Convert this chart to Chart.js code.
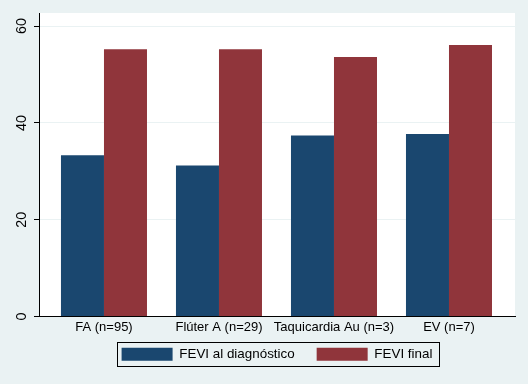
<!DOCTYPE html>
<html>
<head>
<meta charset="utf-8">
<script src="https://cdn.jsdelivr.net/npm/chart.js@4/dist/chart.umd.min.js"></script>
<style>
  body { margin: 0; background: #eaf2f3; }
  #wrap { width: 528px; height: 384px; }
</style>
</head>
<body>
<div id="wrap"><canvas id="myChart" width="528" height="384"></canvas></div>
<script>
const categories = ['FA (n=95)', 'Flúter A (n=29)', 'Taquicardia Au (n=3)', 'EV (n=7)']
const feviDiagnostico = [33.3, 31.2, 37.4, 37.7]
const feviFinal = [55.2, 55.2, 53.6, 56.1]
const yTicks = [0, 20, 40, 60]

const toPoints = (values) => values.map((v, i) => ({ x: i, y: v }))
const family = 'Liberation Sans, Arial'

// white plot region on the stata-like background + legend frame
const stataLook = {
    id: 'stataLook',
    afterLayout(chart) {
        // legend padding doubles as item gap, pull it up a bit closer to the axis
        const legend = chart.legend
        legend.top -= 13
        legend.bottom -= 13
    },
    beforeDraw(chart) {
        const { ctx, chartArea: a } = chart
        ctx.save()
        ctx.fillStyle = '#eaf2f3'
        ctx.fillRect(0, 0, chart.width, chart.height)
        ctx.fillStyle = '#ffffff'
        ctx.fillRect(a.left, a.top, a.right - a.left, a.bottom - a.top)
        ctx.restore()
    },
    afterDraw(chart) {
        const boxes = chart.legend.legendHitBoxes
        if (!boxes || !boxes.length) return
        const first = boxes[0]
        const last = boxes[boxes.length - 1]
        const { ctx } = chart
        ctx.save()
        ctx.strokeStyle = '#000000'
        ctx.lineWidth = 1
        const left = Math.round(first.left - 5) + 0.5
        const right = Math.round(last.left + last.width + 7) + 0.5
        const top = Math.round(first.top - 6) + 0.5
        const bottom = Math.round(first.top + first.height + 5) + 0.5
        ctx.strokeRect(left, top, right - left, bottom - top)
        ctx.restore()
    }
}

const ctx = document.getElementById('myChart')
new Chart(ctx, {
    type: 'bar',
    data: {
        datasets: [
            {
                label: 'FEVI al diagnóstico',
                data: toPoints(feviDiagnostico),
                backgroundColor: '#1a476f',
                borderWidth: 0
            },
            {
                label: 'FEVI final',
                data: toPoints(feviFinal),
                backgroundColor: '#90353b',
                borderWidth: 0
            }
        ]
    },
    options: {
        responsive: false,
        animation: false,
        categoryPercentage: 0.748,
        barPercentage: 1,
        layout: { padding: { top: 13, right: 13, left: 0, bottom: 0 } },
        scales: {
            x: {
                type: 'linear',
                offset: false,
                min: -0.565,
                max: 3.574,
                grid: { display: false, drawTicks: false },
                border: { display: true, color: '#000000', width: 1 },
                ticks: {
                    stepSize: 1,
                    includeBounds: false,
                    autoSkip: false,
                    maxRotation: 0,
                    padding: 3,
                    color: '#000000',
                    font: { family, size: 13 },
                    callback: (value) => Number.isInteger(value) ? categories[value] : ''
                },
                afterFit: (scale) => { scale.height = 22 }
            },
            y: {
                min: 0,
                max: 62.7,
                afterBuildTicks: (scale) => { scale.ticks = yTicks.map(v => ({ value: v })) },
                grid: { color: '#eaf2f3', tickColor: '#000000', tickLength: 5 },
                border: { display: true, color: '#000000', width: 1 },
                ticks: {
                    minRotation: 90,
                    maxRotation: 90,
                    crossAlign: 'center',
                    padding: 4,
                    color: '#000000',
                    font: { family, size: 14.4 }
                },
                afterFit: (scale) => { scale.width = 39 }
            }
        },
        plugins: {
            legend: {
                position: 'bottom',
                fullSize: false,
                labels: {
                    boxWidth: 51,
                    boxHeight: 13,
                    padding: 22,
                    color: '#000000',
                    font: { family, size: 13.4 }
                }
            },
            tooltip: { enabled: false }
        }
    },
    plugins: [stataLook]
})
</script>
</body>
</html>
